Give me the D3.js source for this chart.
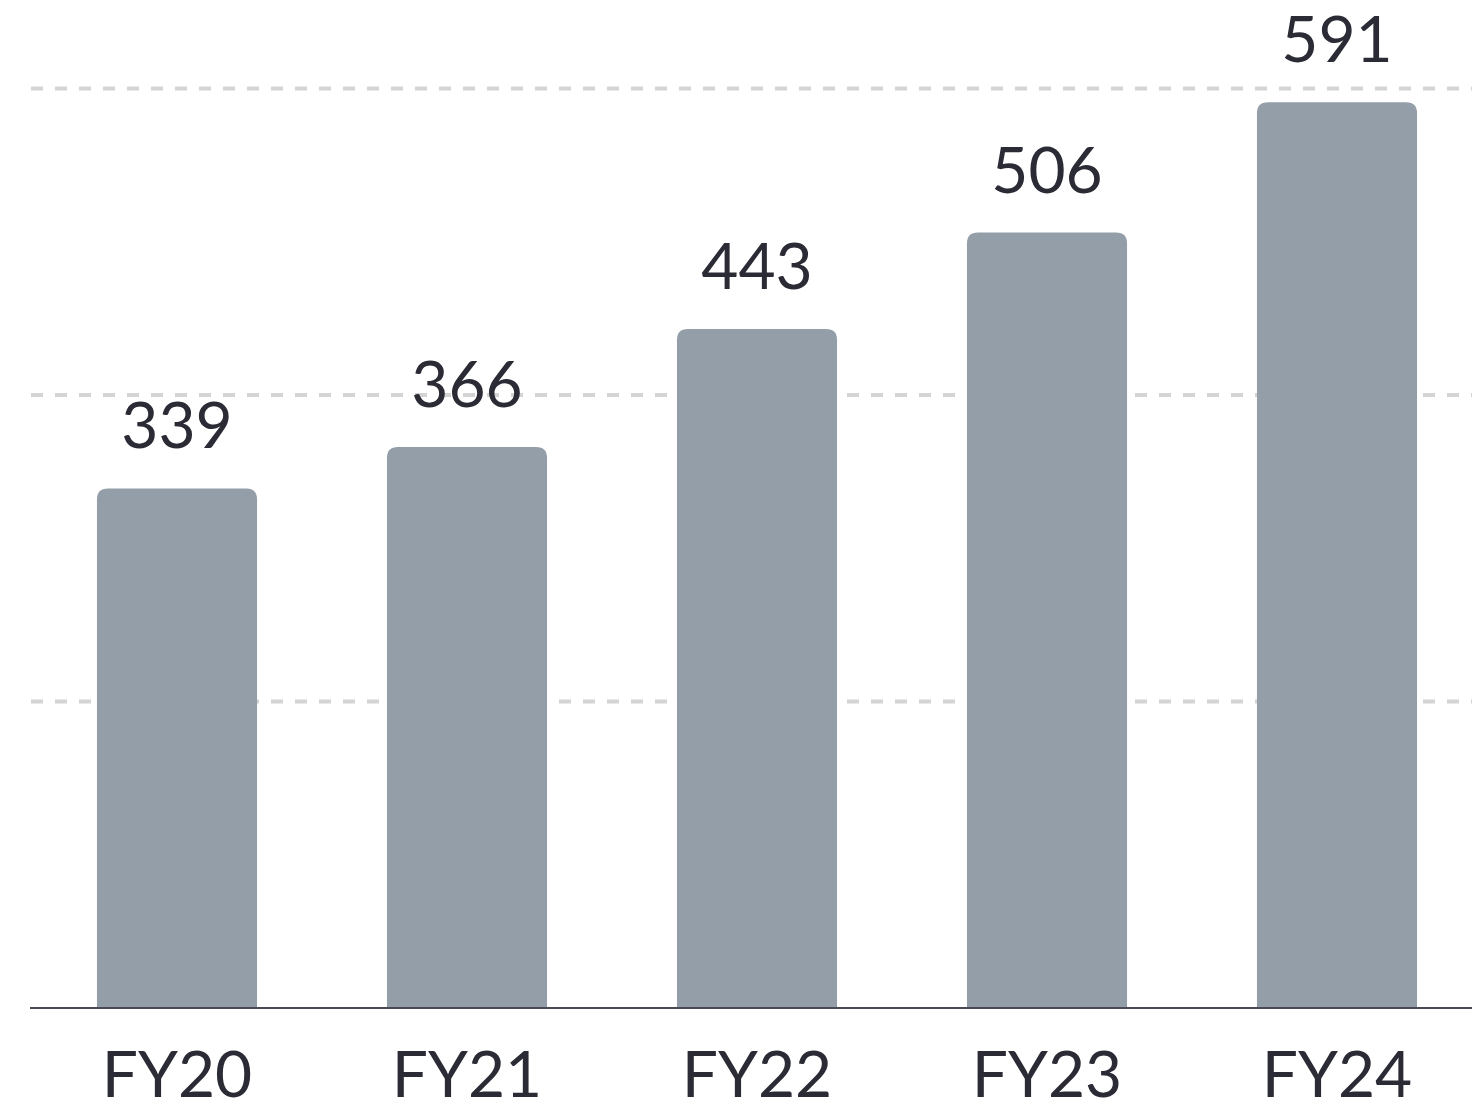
<!DOCTYPE html>
<html>
<head>
<meta charset="utf-8">
<script src="https://cdn.jsdelivr.net/npm/d3@7"></script>
<style>
  html, body { margin: 0; padding: 0; background: #fff; }
  text { font-family: Lato, "Noto Sans", sans-serif; fill: #2b2b36; }
</style>
</head>
<body>
<div id="container"></div>
<script>
const years = ["FY20", "FY21", "FY22", "FY23", "FY24"];
const values = [339, 366, 443, 506, 591];
const gridTicks = [200, 400, 600];

const width = 1472;
const height = 1109;

const svg = d3.select("#container")
	.append("svg")
		.attr("width", width)
		.attr("height", height);

const x = d3.scaleBand()
	.domain(years)
	.range([32, 1482])
	.paddingInner(0.448)
	.paddingOuter(0.224);

const y = d3.scaleLinear()
	.domain([0, 600])
	.range([1008, 88.5]);

// dashed grid
svg.selectAll(".grid")
	.data(gridTicks)
	.enter()
	.append("line")
		.attr("class", "grid")
		.attr("x1", 31)
		.attr("x2", width)
		.attr("y1", (d) => y(d))
		.attr("y2", (d) => y(d))
		.style("stroke", "#d4d4d4")
		.style("stroke-width", 4)
		.style("stroke-dasharray", "12 12");

// bars, rounded at top only
const r = 11;
const barPath = (d, i) => {
	const x0 = x(years[i]), w = x.bandwidth();
	const y0 = y(d), y1 = y(0);
	return `M${x0},${y1} L${x0},${y0 + r} Q${x0},${y0} ${x0 + r},${y0} L${x0 + w - r},${y0} Q${x0 + w},${y0} ${x0 + w},${y0 + r} L${x0 + w},${y1} Z`;
};

svg.selectAll(".bar")
	.data(values)
	.enter()
	.append("path")
		.attr("class", "bar")
		.attr("d", barPath)
		.style("fill", "#949ea8");

// value labels
svg.selectAll(".value")
	.data(values)
	.enter()
	.append("text")
		.attr("class", "value")
		.attr("x", (d, i) => x(years[i]) + x.bandwidth() / 2)
		.attr("y", (d) => y(d) - 40)
		.attr("text-anchor", "middle")
		.style("font-size", "64px")
		.text((d) => d);

// base line
svg.append("line")
	.attr("x1", 30)
	.attr("x2", width)
	.attr("y1", y(0))
	.attr("y2", y(0))
	.style("stroke", "#4a4a55")
	.style("stroke-width", 2);

// category labels
const xAxis = d3.axisBottom(x).tickSize(0).tickPadding(0);
const axisG = svg.append("g")
	.attr("transform", `translate(0, ${y(0)})`)
	.call(xAxis);
axisG.select(".domain").remove();
axisG.selectAll("text")
	.attr("dy", null)
	.attr("y", 89)
	.style("font-size", "64px")
	.style("font-family", "Lato, 'Noto Sans', sans-serif")
	.style("fill", "#2b2b36");
</script>
</body>
</html>
